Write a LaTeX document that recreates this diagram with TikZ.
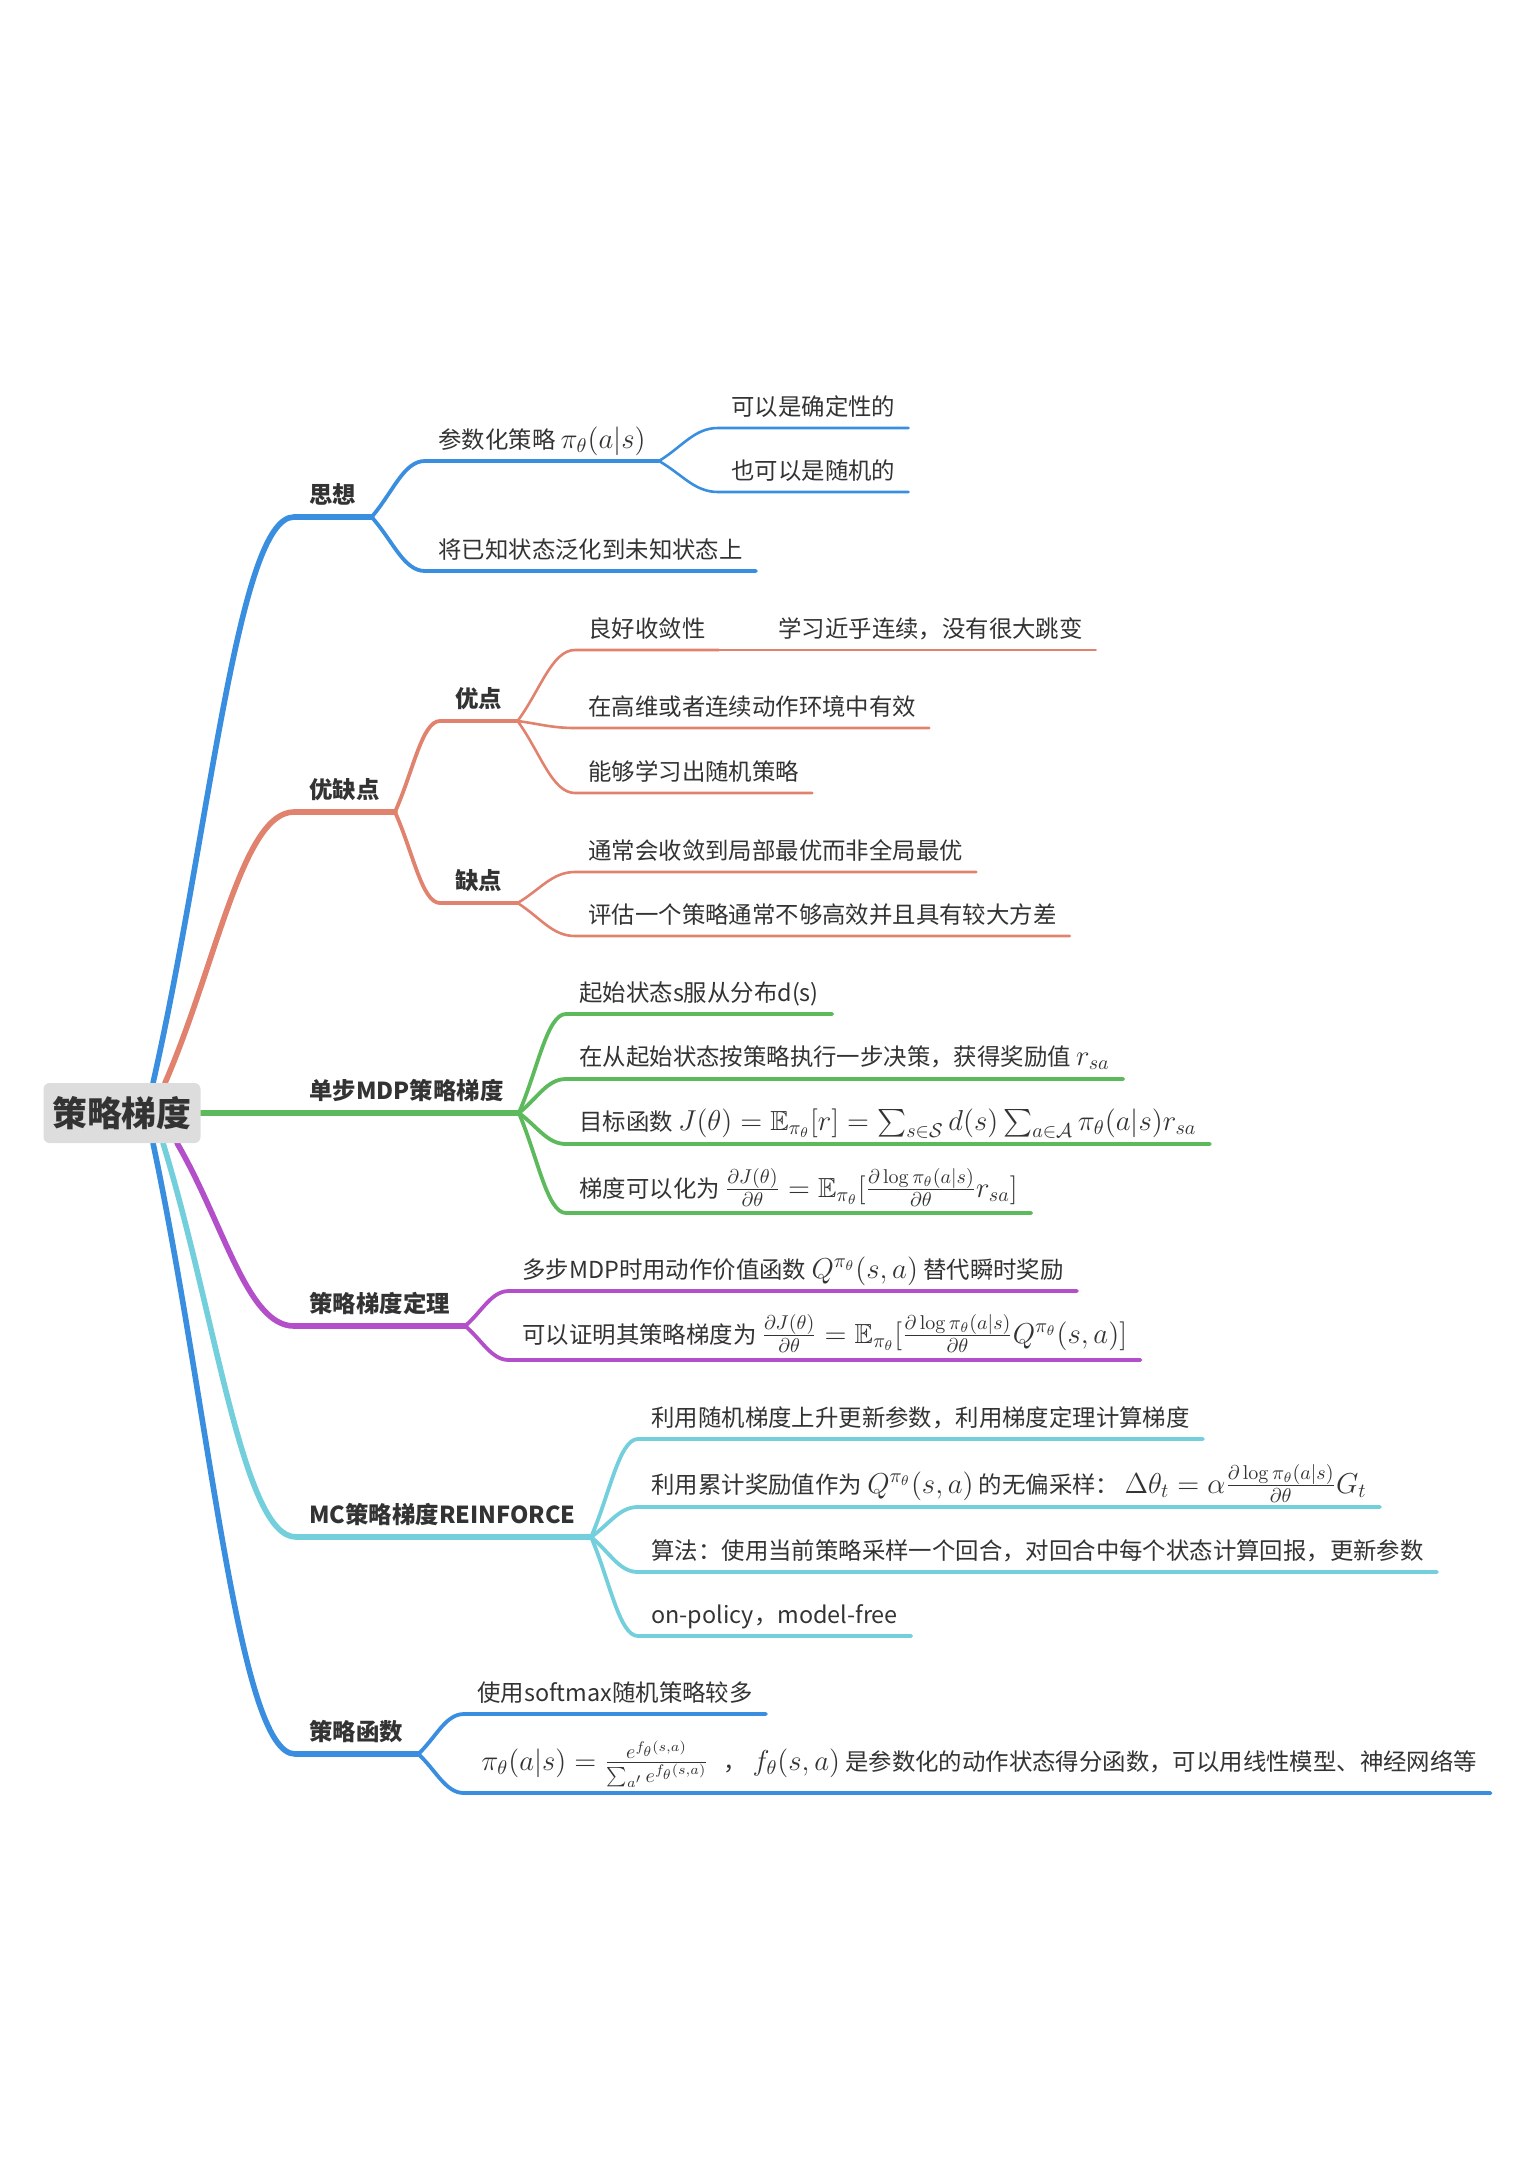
\documentclass[tikz,border=0pt]{standalone}
\usepackage[no-math]{fontspec}
\usepackage{amssymb}
\setmainfont{Noto Sans CJK SC}
\usetikzlibrary{calc,backgrounds}

\definecolor{ink}{HTML}{333333}
\definecolor{ideablue}{HTML}{3A8EE0}
\definecolor{prosred}{HTML}{E0826D}
\definecolor{mdpgreen}{HTML}{5CBA5C}
\definecolor{thmpurple}{HTML}{B24FC9}
\definecolor{mccyan}{HTML}{74CFDC}
\definecolor{rootgray}{HTML}{DDDDDD}

\newcommand{\bigmath}[1]{{\fontsize{13.8}{16}\selectfont$#1$}}

\tikzset{
  mm/.style={to path={let \p1=(\tikztostart), \p2=(\tikztotarget) in
      .. controls ({0.6*\x1+0.4*\x2}, {0.56*\y1+0.44*\y2}) and ({0.4*\x1+0.6*\x2}, \y2) .. (\tikztotarget)}},
  topic/.style={anchor=base west, inner xsep=6.5pt, inner ysep=0pt, text=ink,
      font=\fontsize{11.7}{14}\selectfont},
  mainlabel/.style={topic, inner xsep=7.5pt, font=\fontsize{11.7}{14}\selectfont\bfseries},
  lvone/.style={line width=2.8pt, line cap=round},
  lvtwo/.style={line width=1.9pt, line cap=round},
  lvthree/.style={line width=1.3pt, line cap=round},
  lvfour/.style={line width=0.9pt, line cap=round},
}

\begin{document}
\begin{tikzpicture}[x=0.5pt, y=-0.5pt]
\useasboundingbox (0,0) rectangle (1540,2178);

\node[fill=rootgray, rounded corners=3pt, minimum width=78.5pt, minimum height=30pt, inner sep=0pt,
  text=ink, font=\fontsize{17.4}{20}\selectfont\bfseries] (root) at (122,1113) {策略梯度};

% 思想
\coordinate (r1) at (153,1083);
\coordinate (l1) at (294,517);
\node[mainlabel] (sixiang) at (294,503) {思想};
\coordinate (l11) at (425,461);
\node[topic] (canshu) at (425,448) {参数化策略 \bigmath{\pi_\theta(a|s)}};
\coordinate (l111) at (718,428);
\node[topic] (queding) at (718,415) {可以是确定性的};
\coordinate (l112) at (718,492);
\node[topic] (suiji) at (718,479) {也可以是随机的};
\coordinate (l12) at (425,571);
\node[topic] (fanhua) at (425,558) {将已知状态泛化到未知状态上};

% 优缺点
\coordinate (r2) at (165,1083);
\coordinate (l2) at (294,812);
\node[mainlabel] (youque) at (294,798) {优缺点};
\coordinate (l21) at (440,721);
\node[mainlabel] (youdian) at (440,707) {优点};
\coordinate (l211) at (575,650);
\node[topic] (shoulian) at (575,637) {良好收敛性};
\node[topic] (lianxu) at (765,637) {学习近乎连续，没有很大跳变};
\coordinate (l212) at (575,728);
\node[topic] (gaowei) at (575,715) {在高维或者连续动作环境中有效};
\coordinate (l213) at (575,793);
\node[topic] (suijicl) at (575,780) {能够学习出随机策略};
\coordinate (l22) at (440,903);
\node[mainlabel] (quedian) at (440,889) {缺点};
\coordinate (l221) at (575,872);
\node[topic] (jubu) at (575,859) {通常会收敛到局部最优而非全局最优};
\coordinate (l222) at (575,936);
\node[topic] (fangcha) at (575,923) {评估一个策略通常不够高效并且具有较大方差};

% 单步MDP策略梯度
\node[mainlabel] (mdp) at (294,1099) {单步MDP策略梯度};
\coordinate (l31) at (566,1014);
\node[topic] (fenbu) at (566,1001) {起始状态s服从分布d(s)};
\coordinate (l32) at (566,1079);
\node[topic] (jiangli) at (566,1065) {在从起始状态按策略执行一步决策，获得奖励值 \bigmath{r_{sa}}};
\coordinate (l33) at (566,1144);
\node[topic] (mubiao) at (566,1130) {目标函数 \bigmath{J(\theta)=\mathbb{E}_{\pi_\theta}[r]=\sum_{s\in\mathcal{S}}d(s)\sum_{a\in\mathcal{A}}\pi_\theta(a|s)r_{sa}}};
\coordinate (l34) at (566,1213);
\node[topic] (tidu) at (566,1197) {梯度可以化为 \bigmath{\frac{\partial J(\theta)}{\partial\theta}=\mathbb{E}_{\pi_\theta}[\frac{\partial\log\pi_\theta(a|s)}{\partial\theta}r_{sa}]}};

% 策略梯度定理
\coordinate (r4) at (177,1143);
\coordinate (l4) at (294,1326);
\node[mainlabel] (dingli) at (294,1312) {策略梯度定理};
\coordinate (l41) at (509,1291);
\node[topic] (duobu) at (509,1278) {多步MDP时用动作价值函数 \bigmath{Q^{\pi_\theta}(s,a)} 替代瞬时奖励};
\coordinate (l42) at (509,1360);
\node[topic] (zhengming) at (509,1343) {可以证明其策略梯度为 \bigmath{\frac{\partial J(\theta)}{\partial\theta}=\mathbb{E}_{\pi_\theta}[\frac{\partial\log\pi_\theta(a|s)}{\partial\theta}Q^{\pi_\theta}(s,a)]}};

% MC策略梯度REINFORCE
\coordinate (r5) at (163,1143);
\coordinate (l5) at (296,1537);
\node[mainlabel] (reinforce) at (294,1523) {MC策略梯度REINFORCE};
\coordinate (l51) at (638,1439);
\node[topic] (shangsheng) at (638,1426) {利用随机梯度上升更新参数，利用梯度定理计算梯度};
\coordinate (l52) at (638,1507);
\node[topic] (caiyang) at (638,1493) {利用累计奖励值作为 \bigmath{Q^{\pi_\theta}(s,a)} 的无偏采样： \bigmath{\Delta\theta_t=\alpha\frac{\partial\log\pi_\theta(a|s)}{\partial\theta}G_t}};
\coordinate (l53) at (638,1572);
\node[topic] (suanfa) at (638,1559) {算法：使用当前策略采样一个回合，对回合中每个状态计算回报，更新参数};
\coordinate (l54) at (638,1636);
\node[topic] (onpolicy) at (638,1623) {on-policy，model-free};

% 策略函数
\coordinate (r6) at (153,1143);
\coordinate (l6) at (295,1754);
\node[mainlabel] (hanshu) at (294,1740) {策略函数};
\coordinate (l61) at (464,1714);
\node[topic] (softmax) at (464,1701) {使用softmax随机策略较多};
\coordinate (l62) at (464,1793);
\node[topic] (defen) at (468,1770) {\bigmath{\pi_\theta(a|s)=\frac{e^{f_\theta(s,a)}}{\sum_{a'}e^{f_\theta(s,a)}}}\hspace{5pt} ， \bigmath{f_\theta(s,a)} 是参数化的动作状态得分函数，可以用线性模型、神经网络等};

\begin{scope}[on background layer]
  \draw[lvone,ideablue] (r1) to[mm] (l1) -- (l1 -| sixiang.east) coordinate (j1);
  \draw[lvtwo,ideablue] (j1) to[mm] (l11) -- (l11 -| canshu.east) coordinate (j11);
  \draw[lvthree,ideablue] (j11) to[mm] (l111) -- (l111 -| queding.east);
  \draw[lvthree,ideablue] (j11) to[mm] (l112) -- (l112 -| suiji.east);
  \draw[lvtwo,ideablue] (j1) to[mm] (l12) -- (l12 -| fanhua.east);

  \draw[lvone,prosred] (r2) to[mm] (l2) -- (l2 -| youque.east) coordinate (j2);
  \draw[lvtwo,prosred] (j2) to[mm] (l21) -- (l21 -| youdian.east) coordinate (j21);
  \draw[lvthree,prosred] (j21) to[mm] (l211) -- (l211 -| shoulian.east) coordinate (j211);
  \draw[lvfour,prosred] (j211) -- (j211 -| lianxu.east);
  \draw[lvthree,prosred] (j21) to[mm] (l212) -- (l212 -| gaowei.east);
  \draw[lvthree,prosred] (j21) to[mm] (l213) -- (l213 -| suijicl.east);
  \draw[lvtwo,prosred] (j2) to[mm] (l22) -- (l22 -| quedian.east) coordinate (j22);
  \draw[lvthree,prosred] (j22) to[mm] (l221) -- (l221 -| jubu.east);
  \draw[lvthree,prosred] (j22) to[mm] (l222) -- (l222 -| fangcha.east);

  \draw[lvone,mdpgreen] (root.east) -- (root.east -| mdp.east) coordinate (j3);
  \draw[lvtwo,mdpgreen] (j3) to[mm] (l31) -- (l31 -| fenbu.east);
  \draw[lvtwo,mdpgreen] (j3) to[mm] (l32) -- (l32 -| jiangli.east);
  \draw[lvtwo,mdpgreen] (j3) to[mm] (l33) -- (l33 -| mubiao.east);
  \draw[lvtwo,mdpgreen] (j3) to[mm] (l34) -- (l34 -| tidu.east);

  \draw[lvone,thmpurple] (r4) to[mm] (l4) -- (l4 -| dingli.east) coordinate (j4);
  \draw[lvtwo,thmpurple] (j4) to[mm] (l41) -- (l41 -| duobu.east);
  \draw[lvtwo,thmpurple] (j4) to[mm] (l42) -- (l42 -| zhengming.east);

  \draw[lvone,mccyan] (r5) to[mm] (l5) -- (l5 -| reinforce.east) coordinate (j5);
  \draw[lvtwo,mccyan] (j5) to[mm] (l51) -- (l51 -| shangsheng.east);
  \draw[lvtwo,mccyan] (j5) to[mm] (l52) -- (l52 -| caiyang.east);
  \draw[lvtwo,mccyan] (j5) to[mm] (l53) -- (l53 -| suanfa.east);
  \draw[lvtwo,mccyan] (j5) to[mm] (l54) -- (l54 -| onpolicy.east);

  \draw[lvone,ideablue] (r6) to[mm] (l6) -- (l6 -| hanshu.east) coordinate (j6);
  \draw[lvtwo,ideablue] (j6) to[mm] (l61) -- (l61 -| softmax.east);
  \draw[lvtwo,ideablue] (j6) to[mm] (l62) -- (l62 -| defen.east);
\end{scope}

\end{tikzpicture}
\end{document}
